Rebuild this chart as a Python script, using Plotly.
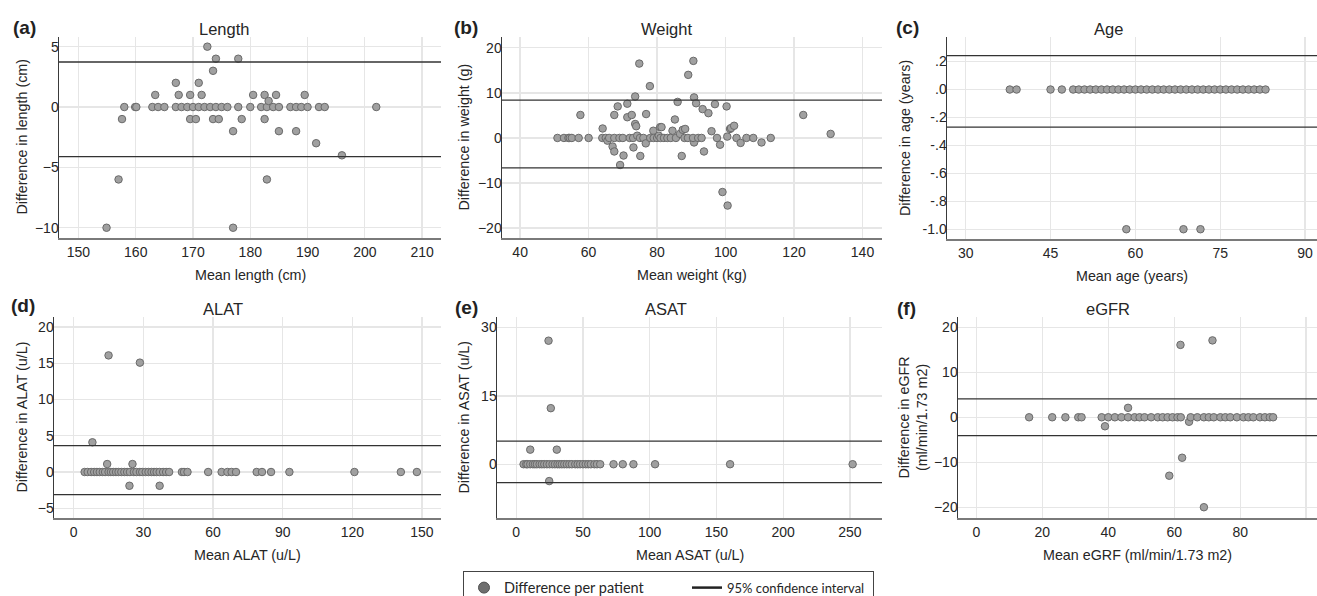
import plotly.graph_objects as go

W, H = 1317, 596

# ---------------- data ----------------
# (a) Length
len_x = [154.9, 157, 157.6, 158, 159.9, 160.1, 162.9, 163.4, 163.9, 165, 167, 167, 167.5, 168, 169, 169.5, 169.5,
         170, 170.5, 171, 171, 171.5, 172, 172.5, 173, 173.5, 173.5, 174, 174, 174.5, 175, 176, 177, 177, 177.9,
         177.9, 178.5, 180, 180.5, 181.9, 182.5, 182.5, 182.9, 182.9, 183.2, 184, 184.5, 185, 185, 187, 188, 188,
         188.9, 189.5, 190, 191.5, 192, 193, 196, 202]
len_y = [-10, -6, -1, 0, 0, 0, 0, 1, 0, 0, 2, 0, 1, 0, 0, 1, -1,
         0, -1, 2, 0, 1, 0, 5, 0, 3, -1, 4, 0, -1, 0, 0, -2, -10, 4,
         0, -1, 0, 1, 0, 1, -1, 0, -6, 0.5, 0, 1, 0, -2, 0, 0, -2,
         0, 1, 0, -3, 0, 0, -4, 0]

# (b) Weight
wt_x = [50.9, 52.8, 54.1, 54.5, 55.1, 57.1, 57.6, 60, 64.1, 64, 65, 65.5, 66, 67, 67.5, 67.5, 67.5, 68.5, 69.2, 69,
        70.2, 70, 71.3, 71.3, 72.6, 72, 73.1, 73, 73.6, 73.6, 73.9, 74.2, 74.8, 75.1, 75, 76, 76.7, 76.8, 77.9, 78,
        78.9, 79, 80, 80.5, 80.9, 81.3, 81, 82, 83, 84.5, 84, 85.2, 85.5, 86, 86.7, 87.2, 87.5, 88.2, 88, 89.1, 89,
        90.6, 90.8, 90.8, 90.5, 91.4, 92, 93, 93.3, 93.7, 95, 95.9, 96.9, 97.5, 98.4, 99.1, 100.3, 100.5, 100.6,
        101.3, 101.6, 102.5, 103.2, 104.4, 106.1, 108.1, 110.5, 113.2, 122.7, 130.7]
wt_y = [0, 0, 0, 0, 0, 0, 5.1, 0, 2.1, 0, 0, -0.6, 0, -1.9, -3, 5.1, 0, 7.0, -6, 0,
        -3.9, 0, 7.6, 4.6, 5.1, 0, -2.1, 0, 9.2, 3.1, 2.6, 0.5, 16.5, -4, 0, 0, -1.2, 5.3, 11.5, 0,
        1.6, 0, 0, 0.5, 2.4, 2.4, 0, 0, 0, 1.6, 0, 4.1, 0, 8.0, 0.9, -4, 1.8, 2.0, 0, 14, 0,
        17.1, 9, -1, 0, 7.7, 0, 0, 6.4, -3, 5.5, 1.5, 7.5, 0, -1.5, -12, 7, 0.3, -15,
        2, 2.2, 2.7, 0, -1.1, 0, 0, -1, 0, 5.1, 0.9]

# (c) Age
age_x = [37.8, 39.0, 45.0, 47.0] + [49, 50, 51, 52, 53, 54, 55, 56, 57, 58, 59, 60, 61, 62, 63, 64, 65, 66, 67, 68,
                                    69, 70, 71, 72, 73, 74, 75, 76, 77, 78, 79, 80, 81, 82, 83] + [58.4, 68.5, 71.5]
age_y = [0, 0, 0, 0] + [0] * 35 + [-1, -1, -1]

# (d) ALAT
alat_x = [8.05, 15, 28.5, 14.4, 25.3, 24, 37,
          4.7, 6, 7.5, 8.8, 10, 11.2, 12.5, 13.5, 15, 16, 17, 18.2, 19.3, 20.5, 21.8, 23, 24.2, 25.9, 27, 28.5,
          29.5, 31, 32.2, 33.5, 34.6, 35.7, 37, 38.5, 39.8, 41.1, 46.6, 47.5, 49, 57.9, 63.7, 66.2, 68, 69.9,
          78.8, 81.1, 85, 92.9, 120.9, 140.9, 147.8]
alat_y = [4.1, 16.1, 15.1, 1.1, 1.1, -1.9, -1.9] + [0] * 45

# (e) ASAT
asat_x = [24.2, 25.9, 10.5, 30.4, 24.7,
          5.5, 7.5, 8.5, 10.5, 12.5, 14, 15.5, 17.5, 19.2, 21, 23, 25, 27.2, 29, 30.9, 32.5, 34.2, 36, 37.9,
          39.8, 41.7, 44.2, 46, 47.9, 50, 52.1, 54, 55.9, 58.6, 60.5, 62.9, 72.9, 79.8, 87.8, 104, 160.2, 252]
asat_y = [27.1, 12.3, 3.2, 3.2, -3.7] + [0] * 37

# (f) eGFR
egfr_x = [61.9, 71.6, 46, 39, 64.5, 62.4, 58.5, 69,
          16, 23, 27, 30.9, 31.9, 38, 40, 42, 44, 46, 48, 49.5, 51, 53, 55, 56.5, 58, 59.5, 61, 62,
          65, 67, 69, 70.5, 72, 74, 75.5, 77, 79, 81, 82.5, 84, 86, 87.5, 89, 90]
egfr_y = [16.1, 17.1, 2.1, -2, -1, -9, -13, -20] + [0] * 36

ci_upper = [3.73, 8.41, 0.243, 3.64, 5.06, 4.07]
ci_lower = [-4.11, -6.64, -0.269, -3.13, -4.03, -4.07]

panel_titles = ["Length", "Weight", "Age", "ALAT", "ASAT", "eGFR"]
panel_labels = ["(a)", "(b)", "(c)", "(d)", "(e)", "(f)"]
x_titles = ["Mean length (cm)", "Mean weight (kg)", "Mean age (years)",
            "Mean ALAT (u/L)", "Mean ASAT (u/L)", "Mean eGRF (ml/min/1.73 m2)"]
y_titles = ["Difference in length (cm)", "Difference in weight (g)", "Difference in age (years)",
            "Difference in ALAT (u/L)", "Difference in ASAT (u/L)", "Difference in eGFR<br>(ml/min/1.73 m2)"]

x_ticks = [[150, 160, 170, 180, 190, 200, 210], [40, 60, 80, 100, 120, 140], [30, 45, 60, 75, 90],
           [0, 30, 60, 90, 120, 150], [0, 50, 100, 150, 200, 250], [0, 20, 40, 60, 80, 100]]
y_ticks = [[-10, -5, 0, 5], [-20, -10, 0, 10, 20], [-1.0, -0.8, -0.6, -0.4, -0.2, 0.0, 0.2],
           [-5, 0, 5, 10, 15, 20], [0, 15, 30], [-20, -10, 0, 10, 20]]
y_ticktext_age = ["-1.0", "-.8", "-.6", "-.4", "-.2", ".0", ".2"]

legend_names = ["Difference per patient", "95% confidence interval"]

# ---------------- layout geometry (pixels) ----------------
x_ranges = [[146.6, 213.3], [34.7, 145.7], [26.7, 92.1], [-8.5, 158.2], [-14.4, 274], [-5.57, 103.3]]
y_ranges = [[-10.85, 5.8], [-22.2, 22.4], [-1.07, 0.376], [-6.35, 21.4], [-11.8, 32.3], [-22.4, 22.3]]
boxes = [(59, 441, 37, 238), (502, 882, 37, 238), (947, 1317, 37, 239),
         (54, 441, 317, 518), (497, 882, 317, 518), (958, 1317, 317, 518)]
title_pos = [(224, 29), (666, 29), (1108, 29), (223, 309), (666, 309), (1108, 309)]
label_pos = [(24.5, 27), (466, 27.5), (907.5, 27.5), (22.5, 305), (466, 307), (906, 308)]
ytitle_x = [21, 463, 905, 21, 463, 913]
xtitle_y = [275, 275, 276, 555, 555, 555]


def px(p):
    return p / W


def py(p):
    return 1 - p / H


FONT = "Liberation Sans, Arial, sans-serif"
TXT = "#262626"

xs = [len_x, wt_x, age_x, alat_x, asat_x, egfr_x]
ys = [len_y, wt_y, age_y, alat_y, asat_y, egfr_y]

fig = go.Figure()
shapes = []
annotations = []
layout = {}

for i in range(6):
    n = "" if i == 0 else str(i + 1)
    xa, ya = "x" + n, "y" + n
    fig.add_trace(go.Scatter(
        x=xs[i], y=ys[i], mode="markers", xaxis=xa, yaxis=ya, showlegend=False,
        marker=dict(size=7.5, color="#a0a0a0", line=dict(color="#6a6a6a", width=1))))
    x0, x1, y0, y1 = boxes[i]
    layout["xaxis" + n] = dict(
        domain=[px(x0), px(x1)], range=x_ranges[i], anchor=ya, tickvals=x_ticks[i],
        showgrid=True, gridcolor="#e6e6e6", gridwidth=1.3, zeroline=False,
        showline=True, linecolor="#7a7a7a", linewidth=2, ticks="",
        tickfont=dict(family=FONT, size=14, color=TXT))
    ydict = dict(
        domain=[py(y1), py(y0)], range=y_ranges[i], anchor=xa, tickvals=y_ticks[i],
        showgrid=True, gridcolor="#e6e6e6", gridwidth=1.3, zeroline=False,
        showline=True, linecolor="#3a3a3a", linewidth=1.5, ticks="", ticklabelstandoff=-4,
        tickfont=dict(family=FONT, size=14, color=TXT))
    if i == 2:
        ydict["ticktext"] = y_ticktext_age
    layout["yaxis" + n] = ydict

    for v in (ci_upper[i], ci_lower[i]):
        shapes.append(dict(type="line", xref=xa + " domain", yref=ya, x0=0, x1=1, y0=v, y1=v,
                           line=dict(color="#333333", width=1.3), layer="above"))

    tx, ty = title_pos[i]
    annotations.append(dict(text=panel_titles[i], x=px(tx), y=py(ty), xref="paper", yref="paper",
                            showarrow=False, xanchor="center", yanchor="middle",
                            font=dict(family=FONT, size=16.5, color=TXT)))
    lx, ly = label_pos[i]
    annotations.append(dict(text="<b>" + panel_labels[i] + "</b>", x=px(lx), y=py(ly), xref="paper",
                            yref="paper", showarrow=False, xanchor="center", yanchor="middle",
                            font=dict(family=FONT, size=19, color="#222222")))
    annotations.append(dict(text=x_titles[i], x=px((x0 + x1) / 2), y=py(xtitle_y[i]), xref="paper",
                            yref="paper", showarrow=False, xanchor="center", yanchor="middle",
                            font=dict(family=FONT, size=14.3, color=TXT)))
    annotations.append(dict(text=y_titles[i], x=px(ytitle_x[i]), y=py((y0 + y1) / 2), xref="paper",
                            yref="paper", showarrow=False, xanchor="center", yanchor="middle",
                            textangle=-90, font=dict(family=FONT, size=14.3, color=TXT)))

# legend entries
fig.add_trace(go.Scatter(x=[None], y=[None], mode="markers", legendwidth=178,
                         name="<span style='font-size:14.5px'>" + legend_names[0] + "</span>",
                         marker=dict(size=11, color="#6e6e6e", line=dict(color="#505050", width=1))))
fig.add_trace(go.Scatter(x=[None], y=[None], mode="lines", legendwidth=141,
                         name="<span style='font-size:13px'>" + legend_names[1] + "</span>",
                         line=dict(color="#222222", width=2.5)))

fig.update_layout(
    width=W, height=H, margin=dict(l=0, r=0, t=0, b=0, autoexpand=False),
    paper_bgcolor="white", plot_bgcolor="white", hovermode=False,
    shapes=shapes, annotations=annotations,
    legend=dict(orientation="h", x=px(463), xanchor="left", y=py(571), yanchor="top",
                bordercolor="#444444", borderwidth=1, bgcolor="white",
                font=dict(family="Lato, Open Sans, sans-serif", size=14, color="#262626"),
                itemsizing="trace", tracegroupgap=0),
    **layout)

fig.write_html("out.html", config={"displayModeBar": False, "staticPlot": True},
               post_script="document.body.style.margin='0';document.body.style.overflow='hidden';")
